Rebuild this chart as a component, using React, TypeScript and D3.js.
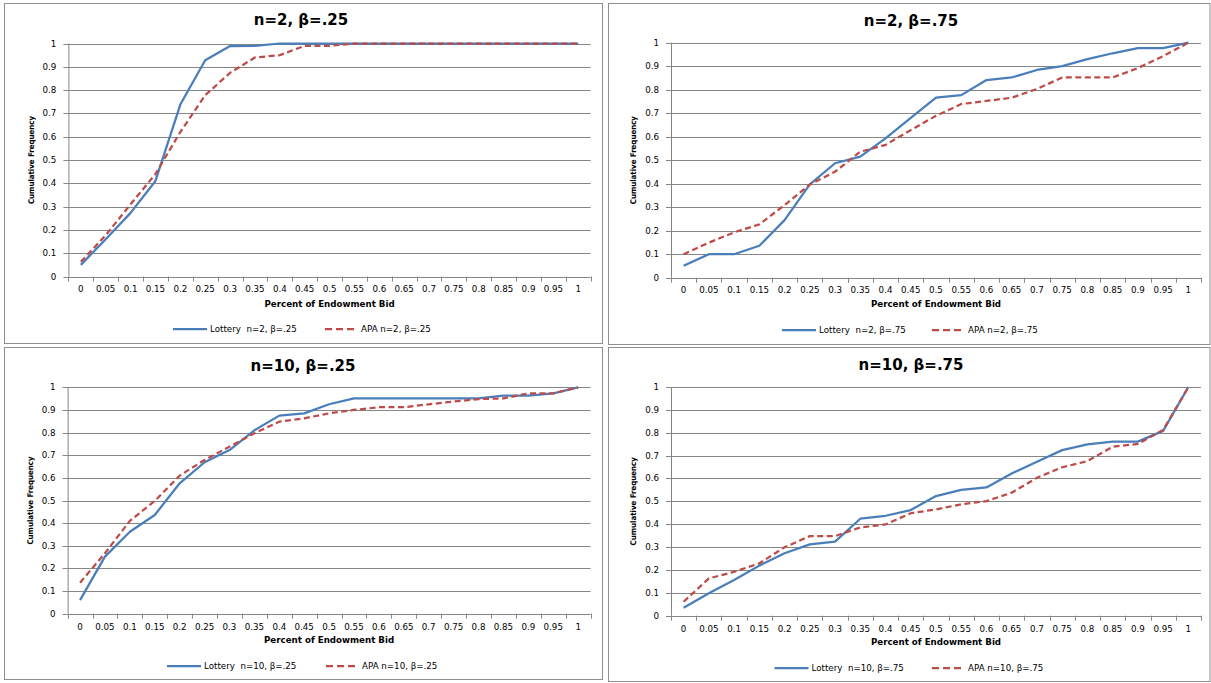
import React from "react";
import * as d3 from "d3";

const categories = ["0","0.05","0.1","0.15","0.2","0.25","0.3","0.35","0.4","0.45","0.5","0.55","0.6","0.65","0.7","0.75","0.8","0.85","0.9","0.95","1"];
const yTickValues = [0, 0.1, 0.2, 0.3, 0.4, 0.5, 0.6, 0.7, 0.8, 0.9, 1];
const yTickLabels = ["0","0.1","0.2","0.3","0.4","0.5","0.6","0.7","0.8","0.9","1"];

const lotteryN2B25 = [0.05,0.16,0.273,0.41,0.738,0.928,0.989,0.99,1,1,1,1,1,1,1,1,1,1,1,1,1];
const apaN2B25 = [0.063,0.177,0.31,0.44,0.62,0.778,0.874,0.94,0.95,0.99,0.99,1,1,1,1,1,1,1,1,1,1];

const lotteryN2B75 = [0.051,0.10,0.10,0.136,0.245,0.397,0.487,0.515,0.593,0.68,0.766,0.777,0.841,0.852,0.884,0.90,0.93,0.955,0.977,0.977,1];
const apaN2B75 = [0.10,0.149,0.193,0.227,0.309,0.397,0.451,0.536,0.565,0.628,0.689,0.739,0.752,0.766,0.803,0.852,0.852,0.852,0.892,0.943,1];

const lotteryN10B25 = [0.06,0.252,0.362,0.436,0.576,0.669,0.723,0.81,0.875,0.885,0.925,0.951,0.951,0.951,0.951,0.951,0.951,0.963,0.963,0.973,1];
const apaN10B25 = [0.137,0.267,0.41,0.498,0.61,0.679,0.738,0.797,0.848,0.863,0.885,0.9,0.912,0.912,0.925,0.937,0.948,0.951,0.973,0.973,1];

const lotteryN10B75 = [0.035,0.098,0.156,0.219,0.273,0.312,0.324,0.424,0.437,0.462,0.523,0.55,0.561,0.622,0.673,0.724,0.749,0.761,0.761,0.808,1];
const apaN10B75 = [0.061,0.163,0.192,0.229,0.299,0.348,0.348,0.386,0.399,0.448,0.465,0.487,0.501,0.538,0.603,0.649,0.676,0.739,0.751,0.812,1];

const titles = ["n=2, \u03b2=.25", "n=2, \u03b2=.75", "n=10, \u03b2=.25", "n=10, \u03b2=.75"];
const lotteryNames = ["Lottery\u00a0 n=2, \u03b2=.25", "Lottery\u00a0 n=2, \u03b2=.75", "Lottery\u00a0 n=10, \u03b2=.25", "Lottery\u00a0 n=10, \u03b2=.75"];
const apaNames = ["APA n=2, \u03b2=.25", "APA n=2, \u03b2=.75", "APA n=10, \u03b2=.25", "APA n=10, \u03b2=.75"];
const lotterySeries = [lotteryN2B25, lotteryN2B75, lotteryN10B25, lotteryN10B75];
const apaSeries = [apaN2B25, apaN2B75, apaN10B25, apaN10B75];

const xTitle = "Percent of Endowment Bid";
const yTitle = "Cumulative Frequency";

// layout only
const layouts = [
  { box: [4.5, 3.5, 598, 340], l: 68.4, r: 590.7, t: 43.5, b: 276.5, titleX: 301, titleY: 20, tickY: 289, axisTitleY: 304, legendY: 329, legendX: 173, redX: 325, yTitleX: 31 },
  { box: [608.5, 3.5, 601.5, 341], l: 671, r: 1201, t: 42.7, b: 277.7, titleX: 911, titleY: 21, tickY: 290, axisTitleY: 304, legendY: 330, legendX: 782, redX: 932, yTitleX: 633 },
  { box: [4.5, 347.5, 598, 332], l: 67.6, r: 590.6, t: 387.3, b: 613.7, titleX: 303, titleY: 365.7, tickY: 626.7, axisTitleY: 640, legendY: 666, legendX: 167, redX: 326, yTitleX: 30 },
  { box: [608.5, 347.5, 601.5, 334], l: 671, r: 1201, t: 387, b: 615.7, titleX: 911, titleY: 365, tickY: 629, axisTitleY: 642, legendY: 668, legendX: 774.5, redX: 932, yTitleX: 633 },
];

const BLUE = "#4A7EBB";
const RED = "#BE4B48";
const GRID = "#868686";
const FONT = "'DejaVu Sans', Verdana, sans-serif";

function Panel({ idx }: { idx: number }) {
  const L = layouts[idx];
  const x = d3.scaleBand<string>().domain(categories).range([L.l, L.r]).paddingInner(0).paddingOuter(0);
  const y = d3.scaleLinear().domain([0, 1]).range([L.b, L.t]);
  const cx = (c: string) => (x(c) as number) + x.bandwidth() / 2;
  const line = d3.line<number>().x((_, i) => cx(categories[i])).y((v) => y(v));
  const tickXs = categories.map((c) => x(c) as number).concat([L.r]);
  const [bx, by, bw, bh] = L.box;
  return (
    <g>
      <rect x={bx} y={by} width={bw} height={bh} fill="#fff" stroke="#8f8f8f" strokeWidth={1} />
      <text x={L.titleX} y={L.titleY} textAnchor="middle" dominantBaseline="central" fontFamily={FONT} fontWeight="bold" fontSize={15} fill="#000">{titles[idx]}</text>
      {yTickValues.map((v) => (
        <line key={"g" + v} x1={L.l - 5} x2={L.r} y1={Math.round(y(v)) + 0.5} y2={Math.round(y(v)) + 0.5} stroke={GRID} strokeWidth={1} />
      ))}
      <line x1={L.l + 0.5} x2={L.l + 0.5} y1={y(1)} y2={y(0)} stroke={GRID} strokeWidth={1} />
      {tickXs.map((tx, i) => (
        <line key={"t" + i} x1={Math.round(tx) + 0.5} x2={Math.round(tx) + 0.5} y1={y(0)} y2={y(0) + 5} stroke={GRID} strokeWidth={1} />
      ))}
      {yTickValues.map((v, i) => (
        <text key={"yl" + v} x={L.l - 12} y={y(v)} textAnchor="end" dominantBaseline="central" fontFamily={FONT} fontSize={8.7} fill="#000">{yTickLabels[i]}</text>
      ))}
      {categories.map((c) => (
        <text key={"xl" + c} x={cx(c)} y={L.tickY} textAnchor="middle" dominantBaseline="central" fontFamily={FONT} fontSize={8.7} fill="#000">{c}</text>
      ))}
      <text x={(L.l + L.r) / 2} y={L.axisTitleY} textAnchor="middle" dominantBaseline="central" fontFamily={FONT} fontWeight="bold" fontSize={8.7} fill="#000">{xTitle}</text>
      <text transform={`translate(${L.yTitleX},${(L.t + L.b) / 2}) rotate(-90)`} textAnchor="middle" dominantBaseline="central" fontFamily="'DejaVu Sans Condensed', 'DejaVu Sans', sans-serif" fontWeight="bold" fontSize={7.8} fill="#000">{yTitle}</text>
      <path d={line(lotterySeries[idx]) || ""} fill="none" stroke={BLUE} strokeWidth={2.25} strokeLinejoin="round" />
      <path d={line(apaSeries[idx]) || ""} fill="none" stroke={RED} strokeWidth={2.25} strokeDasharray="6,3.5" strokeLinejoin="round" />
      <line x1={L.legendX} x2={L.legendX + 34} y1={L.legendY} y2={L.legendY} stroke={BLUE} strokeWidth={2.25} />
      <text x={L.legendX + 37} y={L.legendY} dominantBaseline="central" fontFamily={FONT} fontSize={8.7} fill="#000">{lotteryNames[idx]}</text>
      <line x1={L.redX} x2={L.redX + 30} y1={L.legendY} y2={L.legendY} stroke={RED} strokeWidth={2.25} strokeDasharray="7,4" />
      <text x={L.redX + 36} y={L.legendY} dominantBaseline="central" fontFamily={FONT} fontSize={8.7} fill="#000">{apaNames[idx]}</text>
    </g>
  );
}

export default function App() {
  return (
    <svg width={1211} height={683} style={{ position: "absolute", left: 0, top: 0, background: "#fff" }}>
      <rect x={0} y={0} width={1211} height={683} fill="#fff" />
      {[0, 1, 2, 3].map((i) => <Panel key={i} idx={i} />)}
    </svg>
  );
}
